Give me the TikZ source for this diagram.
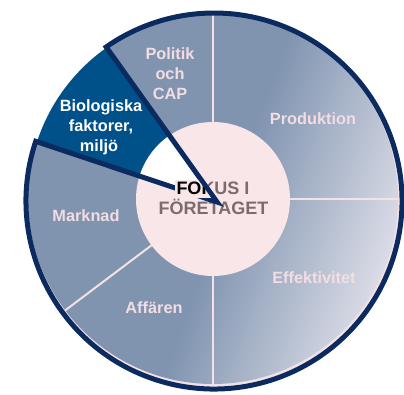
\documentclass[tikz,border=0pt]{standalone}
\usepackage{fontspec}
\setmainfont{Liberation Sans}
\usetikzlibrary{calc}
\definecolor{base}{HTML}{8094B0}
\definecolor{lightend}{HTML}{E2E2EB}
\definecolor{bioblue}{HTML}{005189}
\definecolor{navy}{HTML}{0B2B60}
\definecolor{divider}{HTML}{F3E1E4}
\definecolor{innerpink}{HTML}{F9E6E8}
\definecolor{labelpink}{HTML}{F2DDE2}
\definecolor{centergray}{HTML}{7B6C6F}
\pgfdeclarehorizontalshading{pieshade}{100bp}{color(0bp)=(base); color(52bp)=(base); color(77bp)=(lightend); color(100bp)=(lightend)}
\begin{document}
\begin{tikzpicture}[x=1pt,y=1pt,
  lbl/.style={font=\fontsize{16.3}{19.5}\selectfont\bfseries, text=labelpink, anchor=base, inner sep=0},
  biolbl/.style={lbl, text=white},
  ctext/.style={font=\fontsize{18}{20}\selectfont\bfseries, text=centergray, anchor=base, inner sep=0},
  dividerline/.style={draw=divider, line width=2pt},
  navyline/.style={draw=navy, line width=5pt, line join=miter}]
\useasboundingbox (0,0) rectangle (404,394);
\coordinate (C) at (213,195);
\coordinate (N) at (214,193);
\coordinate (T) at (217,192);
\coordinate (P1) at ($(N)+(125:188)$);
\coordinate (P2) at ($(N)+(161.5:188)$);
% disc with light rim
\fill[divider] (C) circle (187.5);
\shade[shading=pieshade, shading angle=-20] (C) circle (185);
% dividers
\foreach \a in {90,0,270,217}
  \draw[dividerline] ($(C)+(\a:76)$) -- ($(C)+(\a:185.5)$);
% inner disc
\fill[innerpink] (C) circle (77);
% biological wedge
\begin{scope}
  \clip (T) -- ($(T)!2!(P1)$) -- ($(T)!2!(P2)$) -- cycle;
  \fill[white] (C) circle (192);
  \fill[bioblue] (C) circle (185);
  \fill[white] (C) circle (77);
\end{scope}
% center text (grey)
\node[ctext] (f1) at (213,199) {FOKUS I};
\node[ctext] (f2) at (213.5,179) {FÖRETAGET};
% navy outline
\draw[navyline] (T) -- (P2) arc[start angle=161.5, end angle=485, radius=188] -- cycle;
% dark part of the first centre line
\begin{scope}
  \clip ($(T)+(-3,0)$) -- ($(T)!1.6!(P1)+(-3,0)$) -- (0,394) -- (0,0) -- cycle;
  \clip (0,196) rectangle (404,213.5);
  \fill[innerpink] (175,196) rectangle (260,213.5);
  \node[ctext, text=black] (f1b) at (213,199) {FOKUS I};
\end{scope}
% labels
\node[lbl] (pol1) at (170,334) {Politik};
\node[lbl] (pol2) at (170,314) {och};
\node[lbl] (pol3) at (170,294) {CAP};
\node[biolbl] (bio1) at (101,282) {Biologiska};
\node[biolbl] (bio2) at (101,262) {faktorer,};
\node[biolbl] (bio3) at (99,242) {miljö};
\node[lbl] (prod) at (313,269) {Produktion};
\node[lbl] (mark) at (86,172) {Marknad};
\node[lbl] (aff) at (154,81) {Affären};
\node[lbl] (eff) at (314,111) {Effektivitet};
\end{tikzpicture}
\end{document}
